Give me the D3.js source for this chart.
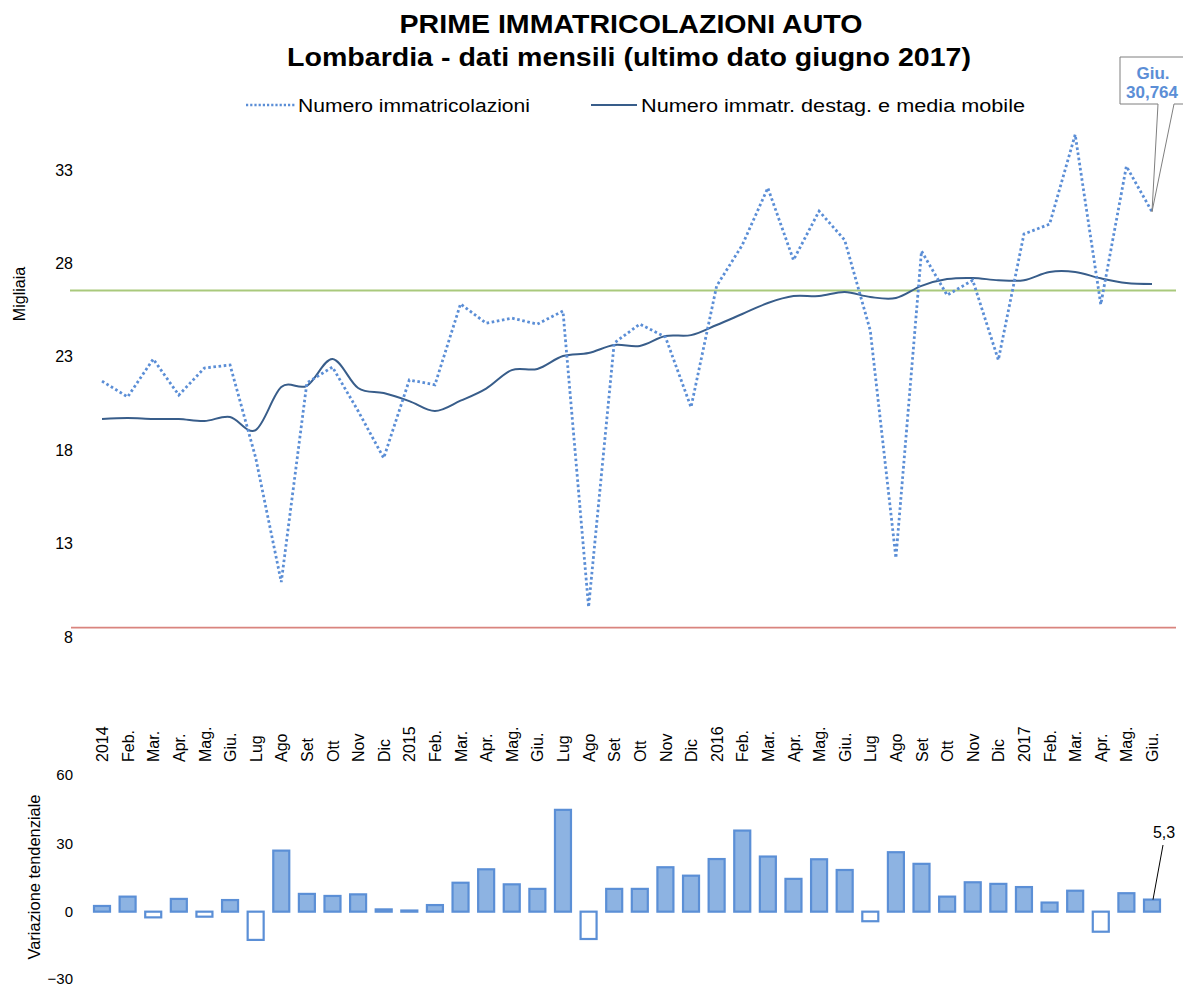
<!DOCTYPE html>
<html lang="it">
<head>
<meta charset="utf-8">
<title>Prime immatricolazioni auto - Lombardia</title>
<script src="https://cdn.jsdelivr.net/npm/d3@7/dist/d3.min.js"></script>
<style>
  html, body { margin: 0; padding: 0; background: #fff; }
  svg { display: block; font-family: "Liberation Sans", Arial, sans-serif; }
</style>
</head>
<body>
<svg id="chart" width="1183" height="987"></svg>
<script>
// Etichette dei mesi (gennaio 2014 - giugno 2017)
const mesi = [
  "2014","Feb.","Mar.","Apr.","Mag.","Giu.","Lug","Ago","Set","Ott","Nov","Dic",
  "2015","Feb.","Mar.","Apr.","Mag.","Giu.","Lug","Ago","Set","Ott","Nov","Dic",
  "2016","Feb.","Mar.","Apr.","Mag.","Giu.","Lug","Ago","Set","Ott","Nov","Dic",
  "2017","Feb.","Mar.","Apr.","Mag.","Giu."
];

// Numero immatricolazioni (migliaia)
const immatricolazioni = [
  21.70, 20.85, 22.88, 20.95, 22.40, 22.56, 17.60, 10.94, 21.60, 22.45, 20.10, 17.58,
  21.76, 21.50, 25.83, 24.80, 25.07, 24.75, 25.45,  9.60, 23.74, 24.75, 24.06, 20.30,
  26.79, 28.98, 32.04, 28.18, 30.80, 29.25, 24.40, 12.23, 28.66, 26.30, 27.10, 22.83,
  29.57, 30.10, 34.90, 25.80, 33.20, 30.764
];

// Numero immatricolazioni destagionalizzato e media mobile (migliaia)
const destagionalizzato = [
  19.67, 19.72, 19.67, 19.67, 19.56, 19.78, 19.08, 21.38, 21.45, 22.88, 21.33, 21.06,
  20.63, 20.10, 20.65, 21.30, 22.29, 22.35, 23.04, 23.20, 23.63, 23.58, 24.11, 24.16,
  24.70, 25.29, 25.88, 26.25, 26.25, 26.47, 26.20, 26.15, 26.80, 27.16, 27.22, 27.10,
  27.10, 27.54, 27.54, 27.20, 26.95, 26.90
];

// Variazione tendenziale (%)
const variazione = [
   2.5,  6.6, -2.5,  5.6, -2.2,  5.1, -12.4, 26.8,  7.8,  6.9,  7.6,  1.0,
   0.5,  2.9, 12.7, 18.6, 12.0, 10.0,  44.7, -12.0, 10.0, 10.0, 19.5, 15.8,
  23.1, 35.6, 24.2, 14.4, 23.0, 18.3,  -4.2, 26.1, 21.0,  6.6, 12.9, 12.2,
  10.8,  4.0,  9.2, -8.8,  8.1,  5.3
];

// Linee di riferimento (migliaia)
const livelloAlto = 26.55;
const livelloBasso = 8.5;

const tickSuperiori = [8, 13, 18, 23, 28, 33];
const tickInferiori = [-30, 0, 30, 60];

const titolo1 = "PRIME IMMATRICOLAZIONI AUTO";
const titolo2 = "Lombardia - dati mensili (ultimo dato giugno 2017)";
const nomeSerie1 = "Numero immatricolazioni";
const nomeSerie2 = "Numero immatr. destag. e media mobile";

const it = d3.formatLocale({ decimal: ",", thousands: ".", grouping: [3], currency: ["€", ""] });
const fmt3 = it.format(".3f");
const fmt1 = it.format(".1f");

const svg = d3.select("#chart");
const idx = d3.range(mesi.length);

const x = d3.scalePoint().domain(idx).range([102, 1152]);
const yTop = d3.scaleLinear().domain([8, 33]).range([637, 170]);
const yBot = d3.scaleLinear().domain([-30, 60]).range([980, 775]);

const colDot = "#5b8ed6";
const colLine = "#385d8a";

// Titolo
svg.append("text").attr("x", 631).attr("y", 33).attr("text-anchor", "middle")
  .attr("font-size", 25).attr("font-weight", "bold").attr("fill", "#000")
  .attr("textLength", 463).attr("lengthAdjust", "spacingAndGlyphs").text(titolo1);
svg.append("text").attr("x", 629).attr("y", 66).attr("text-anchor", "middle")
  .attr("font-size", 25).attr("font-weight", "bold").attr("fill", "#000")
  .attr("textLength", 684).attr("lengthAdjust", "spacingAndGlyphs").text(titolo2);

// Legenda
const leg = svg.append("g");
leg.append("line").attr("x1", 246).attr("x2", 295).attr("y1", 105).attr("y2", 105)
  .attr("stroke", colDot).attr("stroke-width", 2.5).attr("stroke-dasharray", "2.2,2");
leg.append("text").attr("x", 298).attr("y", 112).attr("font-size", 18)
  .attr("textLength", 232).attr("lengthAdjust", "spacingAndGlyphs").text(nomeSerie1);
leg.append("line").attr("x1", 591).attr("x2", 637).attr("y1", 105).attr("y2", 105)
  .attr("stroke", colLine).attr("stroke-width", 2);
leg.append("text").attr("x", 641).attr("y", 112).attr("font-size", 18)
  .attr("textLength", 384).attr("lengthAdjust", "spacingAndGlyphs").text(nomeSerie2);

// Asse verticale superiore
const axTop = svg.append("g").attr("transform", "translate(73,0)")
  .call(d3.axisLeft(yTop).tickValues(tickSuperiori).tickSize(0).tickPadding(0));
axTop.select(".domain").remove();
axTop.selectAll("text").attr("font-size", 16).attr("font-family", "Liberation Sans, Arial, sans-serif").attr("fill", "#000");

svg.append("text").attr("transform", "translate(25,294) rotate(-90)")
  .attr("text-anchor", "middle").attr("font-size", 16).text("Migliaia");

// Linee di riferimento
svg.append("line").attr("x1", 70).attr("x2", 1176)
  .attr("y1", yTop(livelloAlto)).attr("y2", yTop(livelloAlto))
  .attr("stroke", "#a9c97c").attr("stroke-width", 1.8);
svg.append("line").attr("x1", 71).attr("x2", 1176)
  .attr("y1", yTop(livelloBasso)).attr("y2", yTop(livelloBasso))
  .attr("stroke", "#d9847e").attr("stroke-width", 1.8);

// Serie destagionalizzata (linea continua smussata)
svg.append("path").datum(destagionalizzato)
  .attr("fill", "none").attr("stroke", colLine).attr("stroke-width", 2)
  .attr("d", d3.line().x((d, i) => x(i)).y(d => yTop(d)).curve(d3.curveCatmullRom.alpha(0)));

// Serie grezza (linea a punti)
svg.append("path").datum(immatricolazioni)
  .attr("fill", "none").attr("stroke", colDot).attr("stroke-width", 2.8)
  .attr("stroke-dasharray", "2.6,2.6")
  .attr("d", d3.line().x((d, i) => x(i)).y(d => yTop(d)));

// Etichette asse orizzontale
const axX = svg.append("g").attr("transform", "translate(0,762)")
  .call(d3.axisBottom(x).tickFormat(i => mesi[i]).tickSize(0).tickPadding(0));
axX.select(".domain").remove();
axX.selectAll("text")
  .attr("font-size", 16).attr("font-family", "Liberation Sans, Arial, sans-serif").attr("fill", "#000")
  .attr("transform", "rotate(-90)").attr("text-anchor", "start")
  .attr("x", 0).attr("y", 0).attr("dy", "0.35em");

// Callout ultimo dato
const ultimo = immatricolazioni.length - 1;
const px = x(ultimo), py = yTop(immatricolazioni[ultimo]);
const call = svg.append("g");
call.append("path")
  .attr("d", `M1120,57 L1186,57 L1186,104 L1174,104 L${px},${py} L1158,104 L1120,104 Z`)
  .attr("fill", "#fff").attr("stroke", "#7f7f7f").attr("stroke-width", 1);
call.append("text").attr("x", 1153).attr("y", 79).attr("text-anchor", "middle")
  .attr("font-size", 17).attr("font-weight", "bold").attr("fill", colDot).text(mesi[ultimo]);
call.append("text").attr("x", 1152).attr("y", 98).attr("text-anchor", "middle")
  .attr("font-size", 17).attr("font-weight", "bold").attr("fill", colDot)
  .text(fmt3(immatricolazioni[ultimo]));

// Pannello inferiore: variazione tendenziale
const axBot = svg.append("g").attr("transform", "translate(73,0)")
  .call(d3.axisLeft(yBot).tickValues(tickInferiori).tickSize(0).tickPadding(0));
axBot.select(".domain").remove();
axBot.selectAll("text").attr("font-size", 15).attr("font-family", "Liberation Sans, Arial, sans-serif").attr("fill", "#000")
  .attr("dy", d => d === -30 ? "0.2em" : "0.32em");

svg.append("text").attr("transform", "translate(40,877) rotate(-90)")
  .attr("text-anchor", "middle").attr("font-size", 16)
  .attr("textLength", 165).attr("lengthAdjust", "spacingAndGlyphs").text("Variazione tendenziale");

const bw = 16;
svg.append("g").selectAll("rect").data(variazione).join("rect")
  .attr("x", (d, i) => x(i) - bw / 2)
  .attr("width", bw)
  .attr("y", d => yBot(Math.max(0, d)))
  .attr("height", d => Math.abs(yBot(d) - yBot(0)))
  .attr("fill", d => d >= 0 ? "#8db3e2" : "#fff")
  .attr("stroke", "#5b8fd6").attr("stroke-width", 2.2);

// Etichetta ultimo valore
const bx = x(ultimo), by = yBot(variazione[ultimo]);
svg.append("line").attr("x1", 1163).attr("y1", 845).attr("x2", bx + 1).attr("y2", by)
  .attr("stroke", "#000").attr("stroke-width", 1);
svg.append("text").attr("x", 1164).attr("y", 838).attr("text-anchor", "middle")
  .attr("font-size", 16).text(fmt1(variazione[ultimo]));
</script>
</body>
</html>
